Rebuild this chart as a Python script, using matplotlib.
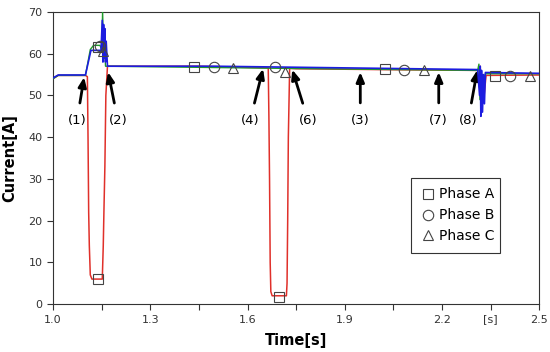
import matplotlib
matplotlib.use('Agg')

import matplotlib.pyplot as plt
import numpy as np

# Phase A (red) current trace
t_a = [1.0, 1.016, 1.10, 1.106, 1.108, 1.110, 1.112, 1.115, 1.120, 1.152, 1.155,
       1.157, 1.160, 1.163, 1.168, 1.45, 1.664, 1.666, 1.668, 1.670, 1.672, 1.676,
       1.720, 1.722, 1.724, 1.726, 1.730, 1.75, 2.0, 2.31, 2.315, 2.318, 2.322,
       2.326, 2.330, 2.336, 2.5]
i_a = [54.0, 54.8, 54.8, 54.5, 40.0, 22.0, 14.0, 7.0, 6.0, 6.0, 14.0,
       22.0, 33.0, 50.0, 57.0, 57.0, 56.6, 45.0, 30.0, 10.0, 3.0, 2.0,
       2.0, 5.0, 20.0, 40.0, 56.5, 56.4, 56.2, 56.0, 52.0, 57.0, 48.0,
       55.0, 50.0, 54.8, 54.9]

# Phase B (green)
t_b = [1.0, 1.016, 1.10, 1.115, 1.125, 1.145, 1.150, 1.153, 1.156, 1.158, 1.162,
       1.170, 1.70, 2.31, 2.314, 2.317, 2.320, 2.324, 2.328, 2.334, 2.5]
i_b = [54.0, 54.8, 54.8, 61.0, 62.0, 62.0, 61.0, 70.0, 60.0, 64.0, 57.0,
       57.0, 56.5, 56.0, 57.5, 49.0, 56.0, 47.0, 54.0, 55.2, 55.2]

# Phase C (blue)
t_c = [1.0, 1.016, 1.10, 1.117, 1.148, 1.152, 1.154, 1.156, 1.158, 1.160, 1.162,
       1.164, 1.168, 1.50, 2.31, 2.316, 2.318, 2.320, 2.322, 2.325, 2.328, 2.331,
       2.334, 2.5]
i_c = [54.2, 54.9, 54.9, 60.8, 60.8, 68.0, 58.0, 67.0, 59.0, 66.0, 58.0,
       63.0, 57.0, 57.0, 56.2, 50.0, 57.0, 45.0, 56.0, 46.0, 55.0, 48.0,
       55.5, 55.3]

# marker positions
sq_t = [1.138, 1.138, 1.435, 1.698, 2.025, 2.364]
sq_i = [61.5, 6.0, 56.9, 1.7, 56.3, 54.7]
ci_t = [1.145, 1.497, 1.685, 2.083, 2.41]
ci_i = [61.8, 56.8, 56.7, 56.2, 54.7]
tr_t = [1.155, 1.556, 1.716, 2.145, 2.472]
tr_i = [60.6, 56.6, 55.7, 56.0, 54.7]

# annotations: label, arrow tip (t, i), text position (t, i)
notes = [("(1)", 1.096, 54.4, 1.074, 44.0),
         ("(2)", 1.170, 55.6, 1.200, 44.0),
         ("(4)", 1.648, 56.4, 1.608, 44.0),
         ("(6)", 1.738, 56.2, 1.787, 44.0),
         ("(3)", 1.948, 55.6, 1.948, 44.0),
         ("(7)", 2.190, 55.6, 2.190, 44.0),
         ("(8)", 2.309, 56.1, 2.281, 44.0)]

fig = plt.figure(figsize=(5.5, 3.52), dpi=100)
ax = fig.add_axes([0.0964, 0.136, 0.884, 0.830])

ax.plot(t_a, i_a, color='#e0302a', lw=1.1, zorder=2)
ax.plot(t_b, i_b, color='#1f9a2a', lw=1.0, zorder=3)
ax.plot(t_c, i_c, color='#1c1ce0', lw=1.2, zorder=4)

mk = dict(ls='none', mfc='none', mec='#444444', mew=0.8, ms=7.5, zorder=5)
ax.plot(sq_t, sq_i, marker='s', label='Phase A', **mk)
ax.plot(ci_t, ci_i, marker='o', label='Phase B', **mk)
ax.plot(tr_t, tr_i, marker='^', label='Phase C', **mk)

for lab, xt, yt, xx, yy in notes:
    ax.annotate(lab, xy=(xt, yt), xytext=(xx, yy), fontsize=9.5,
                ha='center', va='center',
                arrowprops=dict(arrowstyle='-|>,head_length=0.6,head_width=0.25',
                                color='black', lw=2.0, shrinkA=6, shrinkB=0))

ax.set_xlim(1.0, 2.5)
ax.set_ylim(0, 70)
xt = np.round(np.arange(1.0, 2.51, 0.15), 2)
xl = ['1.0', '', '1.3', '', '1.6', '', '1.9', '', '2.2', '[s]', '2.5']
ax.set_xticks(xt)
ax.set_xticklabels(xl)
ax.set_yticks(range(0, 71, 10))
ax.tick_params(labelsize=8, colors='#333333', direction='out', length=4)
for s in ax.spines.values():
    s.set_color('#333333')

ax.set_xlabel('Time[s]', fontsize=10.5, fontweight='bold', labelpad=6)
ax.set_ylabel('Current[A]', fontsize=10.5, fontweight='bold', labelpad=8)

leg = ax.legend(loc='lower left', bbox_to_anchor=(0.722, 0.151, 0.212, 0.263),
                mode='expand', fontsize=10, fancybox=False, framealpha=1,
                edgecolor='#333333', handletextpad=0.3, handlelength=1.0,
                borderpad=0.7, labelspacing=0.5)
leg.get_frame().set_linewidth(0.8)

fig.savefig('out.png', dpi=100)
plt.close(fig)
